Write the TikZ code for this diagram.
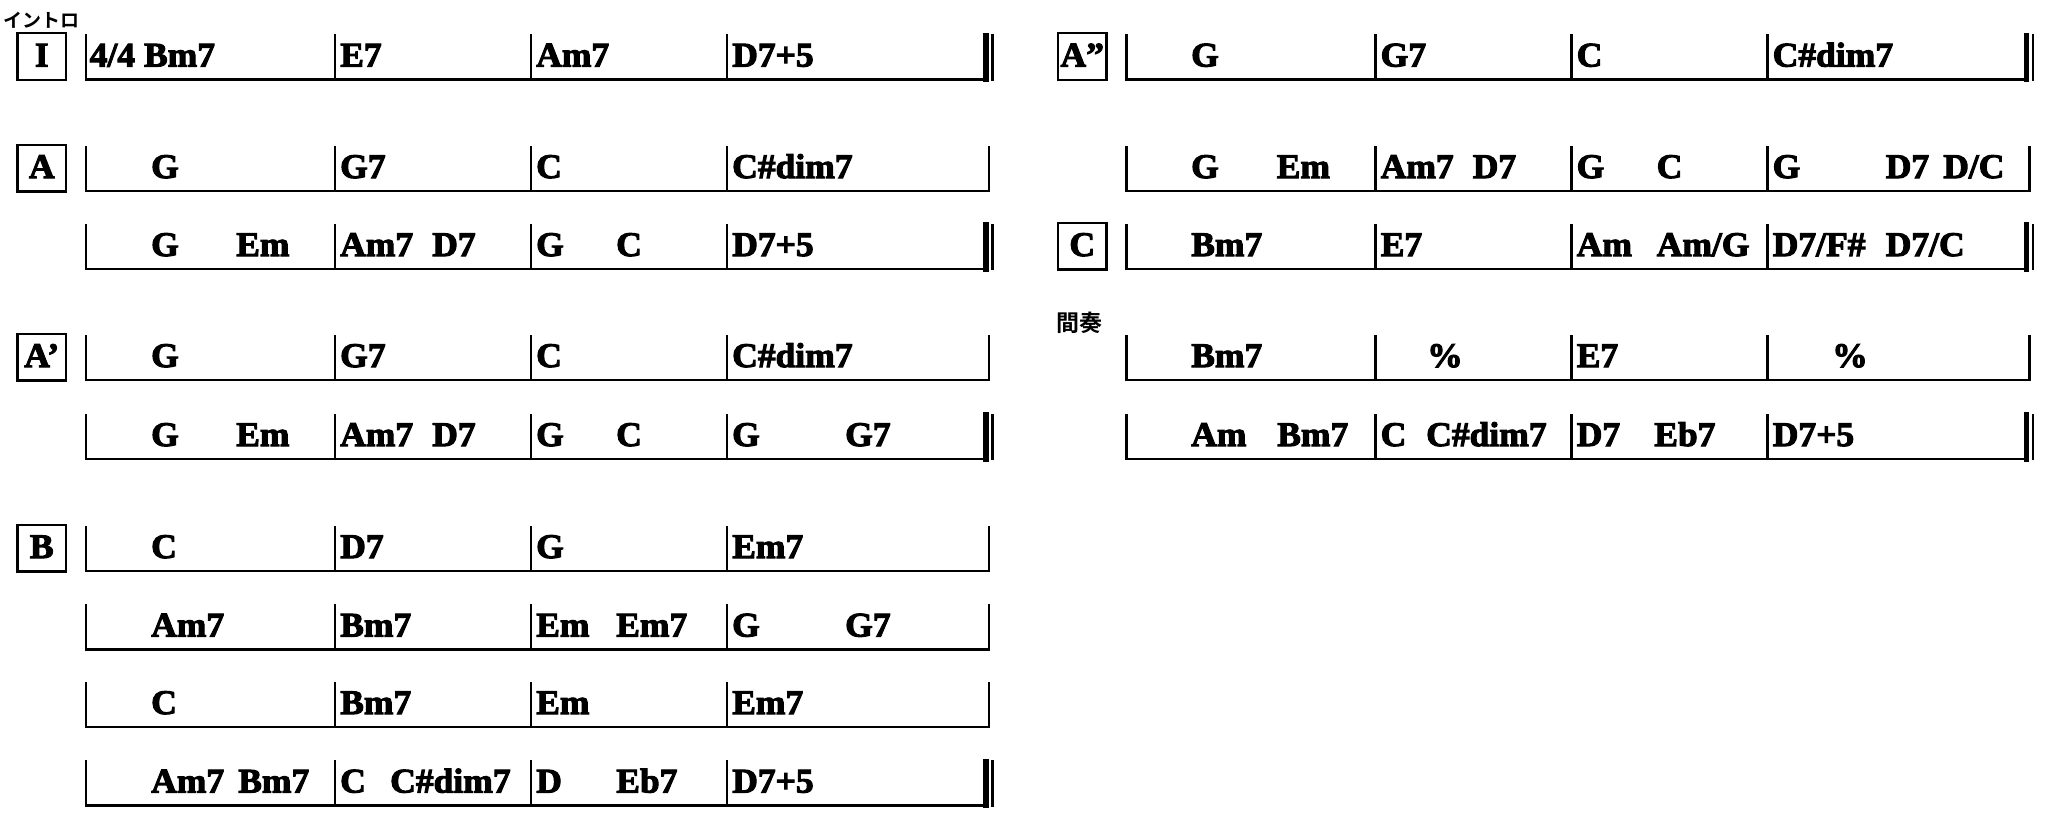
\documentclass[tikz,border=0pt]{standalone}
\usepackage{fontspec}
\newfontfamily\chordfont{Liberation Serif Bold}[FakeStretch=1.03,FakeBold=3]
\newfontfamily\jpfont{Noto Sans CJK JP Bold}
\begin{document}
\begin{tikzpicture}[x=1pt,y=-1pt,
  chord/.style={font=\chordfont\fontsize{34.5pt}{36pt}\selectfont, anchor=base west, inner sep=0pt},
  barl/.style={line width=2.8pt, line cap=rect},
  hline/.style={line width=2.8pt, line cap=butt},
  dbarthick/.style={line width=5.5pt, line cap=rect},
  dbarthin/.style={line width=2.5pt, line cap=rect},
  secbox/.style={draw, line width=2.3pt, minimum width=48.5pt, minimum height=46.7pt, inner sep=0pt,
    text height=22pt, text depth=2.3pt, font=\chordfont\fontsize{34.5pt}{36pt}\selectfont},
  jplabel/.style={anchor=north west, inner sep=0pt}]
\fill[white] (0,0) rectangle (2052,822);
\useasboundingbox (0,0) rectangle (2052,822);
% row macros: #1 name, #2 x offset, #3 y of the line
\newcommand\barsof[3]{%
  \foreach \bx [count=\i from 0] in {86,335,531,727} {%
    \coordinate (#1t\i) at (\bx+#2,#3-44);
    \coordinate (#1b\i) at (\bx+#2,#3);
    \draw[barl] (#1t\i) -- (#1b\i);
  }}
\newcommand\rowS[3]{%
  \barsof{#1}{#2}{#3}%
  \coordinate (#1te) at (989+#2,#3-44);
  \coordinate (#1be) at (989+#2,#3);
  \draw[hline] (#1b0) -- (#1be);
  \draw[barl] (#1te) -- (#1be);}
\newcommand\rowD[3]{%
  \barsof{#1}{#2}{#3}%
  \coordinate (#1te) at (986+#2,#3-44);
  \coordinate (#1be) at (986+#2,#3);
  \coordinate (#1tf) at (992.3+#2,#3-44);
  \coordinate (#1bf) at (992.3+#2,#3);
  \draw[hline] (#1b0) -- (#1be);
  \draw[dbarthick] (#1te) -- (#1be);
  \draw[dbarthin] (#1tf) -- (#1bf);}
\newcommand\ch[4]{\node[chord] (#1) at (#2,#3-13) {#4};}
% ---------- labels ----------
\node[jplabel, font=\jpfont\fontsize{19pt}{20pt}\selectfont] (intro) at (3,12) {イントロ};
\node[jplabel, font=\jpfont\fontsize{23pt}{24pt}\selectfont] (kanso) at (1056,312) {間奏};
\node[secbox] (bxI) at (41.75,79.5-22.85) {I};
\node[secbox] (bxA) at (41.75,191-22.85) {A};
\node[secbox] (bxAp) at (41.75,380-22.85) {A’};
\node[secbox] (bxB) at (41.75,571-22.85) {B};
\node[secbox] (bxApp) at (1082.25,79.5-22.85) {A”};
\node[secbox] (bxC) at (1082.25,269-22.85) {C};
% ---------- left column ----------
\rowD{ri}{0}{79.5}
\ch{ri1}{89.5}{79.5}{4/4 Bm7}\ch{ri2}{340}{79.5}{E7}\ch{ri3}{536}{79.5}{Am7}\ch{ri4}{732}{79.5}{D7+5}
\rowS{ra}{0}{191}
\ch{ra1}{151}{191}{G}\ch{ra2}{340}{191}{G7}\ch{ra3}{536}{191}{C}\ch{ra4}{732}{191}{C\#dim7}
\rowD{rb}{0}{269}
\ch{rb1}{151}{269}{G}\ch{rb1b}{236}{269}{Em}\ch{rb2}{340}{269}{Am7}\ch{rb2b}{432}{269}{D7}
\ch{rb3}{536}{269}{G}\ch{rb3b}{616}{269}{C}\ch{rb4}{732}{269}{D7+5}
\rowS{rc}{0}{380}
\ch{rc1}{151}{380}{G}\ch{rc2}{340}{380}{G7}\ch{rc3}{536}{380}{C}\ch{rc4}{732}{380}{C\#dim7}
\rowD{rd}{0}{459}
\ch{rd1}{151}{459}{G}\ch{rd1b}{236}{459}{Em}\ch{rd2}{340}{459}{Am7}\ch{rd2b}{432}{459}{D7}
\ch{rd3}{536}{459}{G}\ch{rd3b}{616}{459}{C}\ch{rd4}{732}{459}{G}\ch{rd4b}{845}{459}{G7}
\rowS{re}{0}{571}
\ch{re1}{151}{571}{C}\ch{re2}{340}{571}{D7}\ch{re3}{536}{571}{G}\ch{re4}{732}{571}{Em7}
\rowS{rf}{0}{649.5}
\ch{rf1}{151}{649.5}{Am7}\ch{rf2}{340}{649.5}{Bm7}\ch{rf3}{536}{649.5}{Em}\ch{rf3b}{616}{649.5}{Em7}
\ch{rf4}{732}{649.5}{G}\ch{rf4b}{845}{649.5}{G7}
\rowS{rg}{0}{727}
\ch{rg1}{151}{727}{C}\ch{rg2}{340}{727}{Bm7}\ch{rg3}{536}{727}{Em}\ch{rg4}{732}{727}{Em7}
\rowD{rh}{0}{805.5}
\ch{rh1}{151}{805.5}{Am7}\ch{rh1b}{238}{805.5}{Bm7}\ch{rh2}{340}{805.5}{C}\ch{rh2b}{390}{805.5}{C\#dim7}
\ch{rh3}{536}{805.5}{D}\ch{rh3b}{616}{805.5}{Eb7}\ch{rh4}{732}{805.5}{D7+5}
% ---------- right column ----------
\rowD{sa}{1040.5}{79.5}
\ch{sa1}{1191}{79.5}{G}\ch{sa2}{1380.5}{79.5}{G7}\ch{sa3}{1576.5}{79.5}{C}\ch{sa4}{1772.5}{79.5}{C\#dim7}
\rowS{sb}{1040.5}{191}
\ch{sb1}{1191}{191}{G}\ch{sb1b}{1276.5}{191}{Em}\ch{sb2}{1380.5}{191}{Am7}\ch{sb2b}{1472.5}{191}{D7}
\ch{sb3}{1576.5}{191}{G}\ch{sb3b}{1656.5}{191}{C}\ch{sb4}{1772.5}{191}{G}\ch{sb4b}{1885.5}{191}{D7}
\ch{sb4c}{1943}{191}{D/C}
\rowD{sc}{1040.5}{269}
\ch{sc1}{1191}{269}{Bm7}\ch{sc2}{1380.5}{269}{E7}\ch{sc3}{1576.5}{269}{Am}\ch{sc3b}{1656.5}{269}{Am/G}
\ch{sc4}{1772.5}{269}{D7/F\#}\ch{sc4b}{1885.5}{269}{D7/C}
\rowS{sd}{1040.5}{380}
\ch{sd1}{1191}{380}{Bm7}\ch{sd2}{1427}{380}{\%}\ch{sd3}{1576.5}{380}{E7}\ch{sd4}{1832}{380}{\%}
\rowD{se}{1040.5}{459}
\ch{se1}{1191}{459}{Am}\ch{se1b}{1277}{459}{Bm7}\ch{se2}{1380.5}{459}{C}\ch{se2b}{1426}{459}{C\#dim7}
\ch{se3}{1576.5}{459}{D7}\ch{se3b}{1654}{459}{Eb7}\ch{se4}{1772.5}{459}{D7+5}
\end{tikzpicture}
\end{document}
